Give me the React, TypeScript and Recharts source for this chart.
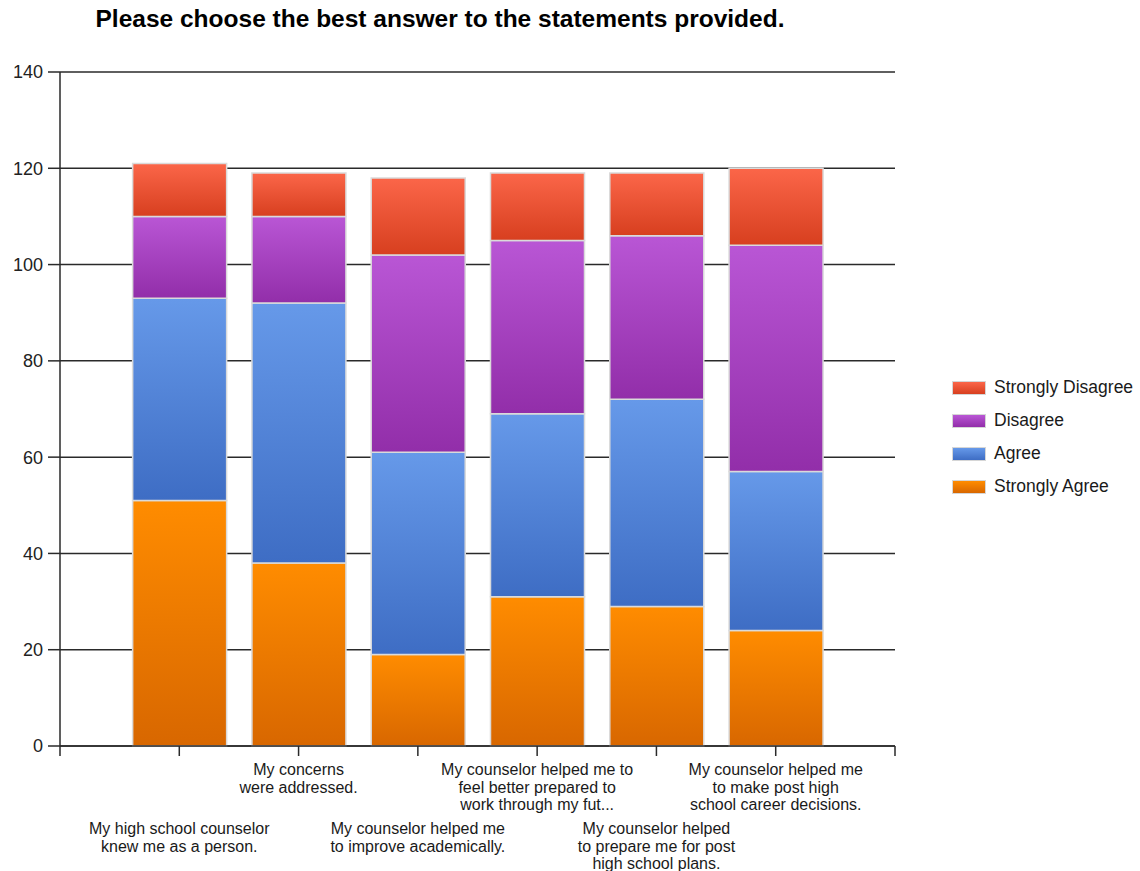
import { BarChart, Bar, XAxis, YAxis, CartesianGrid } from 'recharts';

const questions = [
  ['My high school counselor', 'knew me as a person.'],
  ['My concerns', 'were addressed.'],
  ['My counselor helped me', 'to improve academically.'],
  ['My counselor helped me to', 'feel better prepared to', 'work through my fut...'],
  ['My counselor helped', 'to prepare me for post', 'high school plans.'],
  ['My counselor helped me', 'to make post high', 'school career decisions.'],
];

const stronglyAgree = [51, 38, 19, 31, 29, 24];
const agree = [42, 54, 42, 38, 43, 33];
const disagree = [17, 18, 41, 36, 34, 47];
const stronglyDisagree = [11, 9, 16, 14, 13, 16];

const yTicks = [0, 20, 40, 60, 80, 100, 120, 140];
const xTicks = [0, 1, 2, 3, 4, 5, 6, 7];

const data = questions.map((q, i) => ({
  pos: i + 1,
  sa: stronglyAgree[i],
  a: agree[i],
  d: disagree[i],
  sd: stronglyDisagree[i],
}));

const series = [
  { key: 'sd', name: 'Strongly Disagree', top: '#fb6649', bottom: '#d73f1f' },
  { key: 'd', name: 'Disagree', top: '#b956d5', bottom: '#922ea9' },
  { key: 'a', name: 'Agree', top: '#6699e9', bottom: '#3e6dc4' },
  { key: 'sa', name: 'Strongly Agree', top: '#ff8c00', bottom: '#d86700' },
];

const FONT = '"Liberation Sans", Arial, sans-serif';

function QuestionTick(props: any) {
  const { x, y, payload } = props;
  const v = payload.value;
  if (v < 1 || v > 6) return null;
  const lines = questions[v - 1];
  const first = v % 2 === 0 ? 17 : 76;
  return (
    <text x={x} y={y} textAnchor="middle" fontFamily={FONT} fontSize={16} fill="#1a1a1a">
      {lines.map((l, i) => (
        <tspan key={i} x={x} dy={i === 0 ? first : 17.5}>
          {l}
        </tspan>
      ))}
    </text>
  );
}

function LegendBox() {
  return (
    <div
      style={{
        position: 'absolute',
        left: 952,
        top: 371,
        fontFamily: FONT,
        fontSize: 17.5,
        color: '#1a1a1a',
      }}
    >
      {series.map((s) => (
        <div key={s.key} style={{ display: 'flex', alignItems: 'center', height: 33 }}>
          <span
            style={{
              display: 'inline-block',
              width: 32,
              height: 12,
              background: `linear-gradient(${s.top}, ${s.bottom})`,
              border: '1px solid #d6d6d6',
              marginRight: 8,
            }}
          />
          {s.name}
        </div>
      ))}
    </div>
  );
}

export default function App() {
  return (
    <div style={{ position: 'absolute', left: 0, top: 0, width: 1140, height: 871, background: '#fff' }}>
      <div
        style={{
          position: 'absolute',
          left: 0,
          top: 5,
          width: 880,
          textAlign: 'center',
          fontFamily: FONT,
          fontWeight: 'bold',
          fontSize: 24.5,
          color: '#000',
        }}
      >
        Please choose the best answer to the statements provided.
      </div>
      <BarChart
        width={1140}
        height={871}
        data={data}
        margin={{ top: 72, right: 245, bottom: 0, left: 0 }}
        barGap={0}
      >
        <defs>
          {series.map((s) => (
            <linearGradient key={s.key} id={`grad-${s.key}`} x1="0" y1="0" x2="0" y2="1">
              <stop offset="0%" stopColor={s.top} />
              <stop offset="100%" stopColor={s.bottom} />
            </linearGradient>
          ))}
        </defs>
        <CartesianGrid vertical={false} stroke="#2a2a2a" strokeWidth={1.5} />
        <XAxis
          type="number"
          dataKey="pos"
          domain={[0, 7]}
          ticks={xTicks}
          interval={0}
          height={125}
          tickSize={10}
          stroke="#2a2a2a"
          strokeWidth={1.5}
          tick={<QuestionTick />}
        />
        <YAxis
          width={60}
          domain={[0, 140]}
          ticks={yTicks}
          interval={0}
          tickSize={12}
          tickMargin={5}
          stroke="#2a2a2a"
          strokeWidth={1.5}
          tick={{ fontFamily: FONT, fontSize: 18, fill: '#222' }}
        />
        {[...series].reverse().map((s) => (
          <Bar
            key={s.key}
            dataKey={s.key}
            name={s.name}
            stackId="all"
            barSize={94}
            fill={`url(#grad-${s.key})`}
            stroke="#dadada"
            strokeWidth={1.5}
            isAnimationActive={false}
          />
        ))}
      </BarChart>
      <LegendBox />
    </div>
  );
}
